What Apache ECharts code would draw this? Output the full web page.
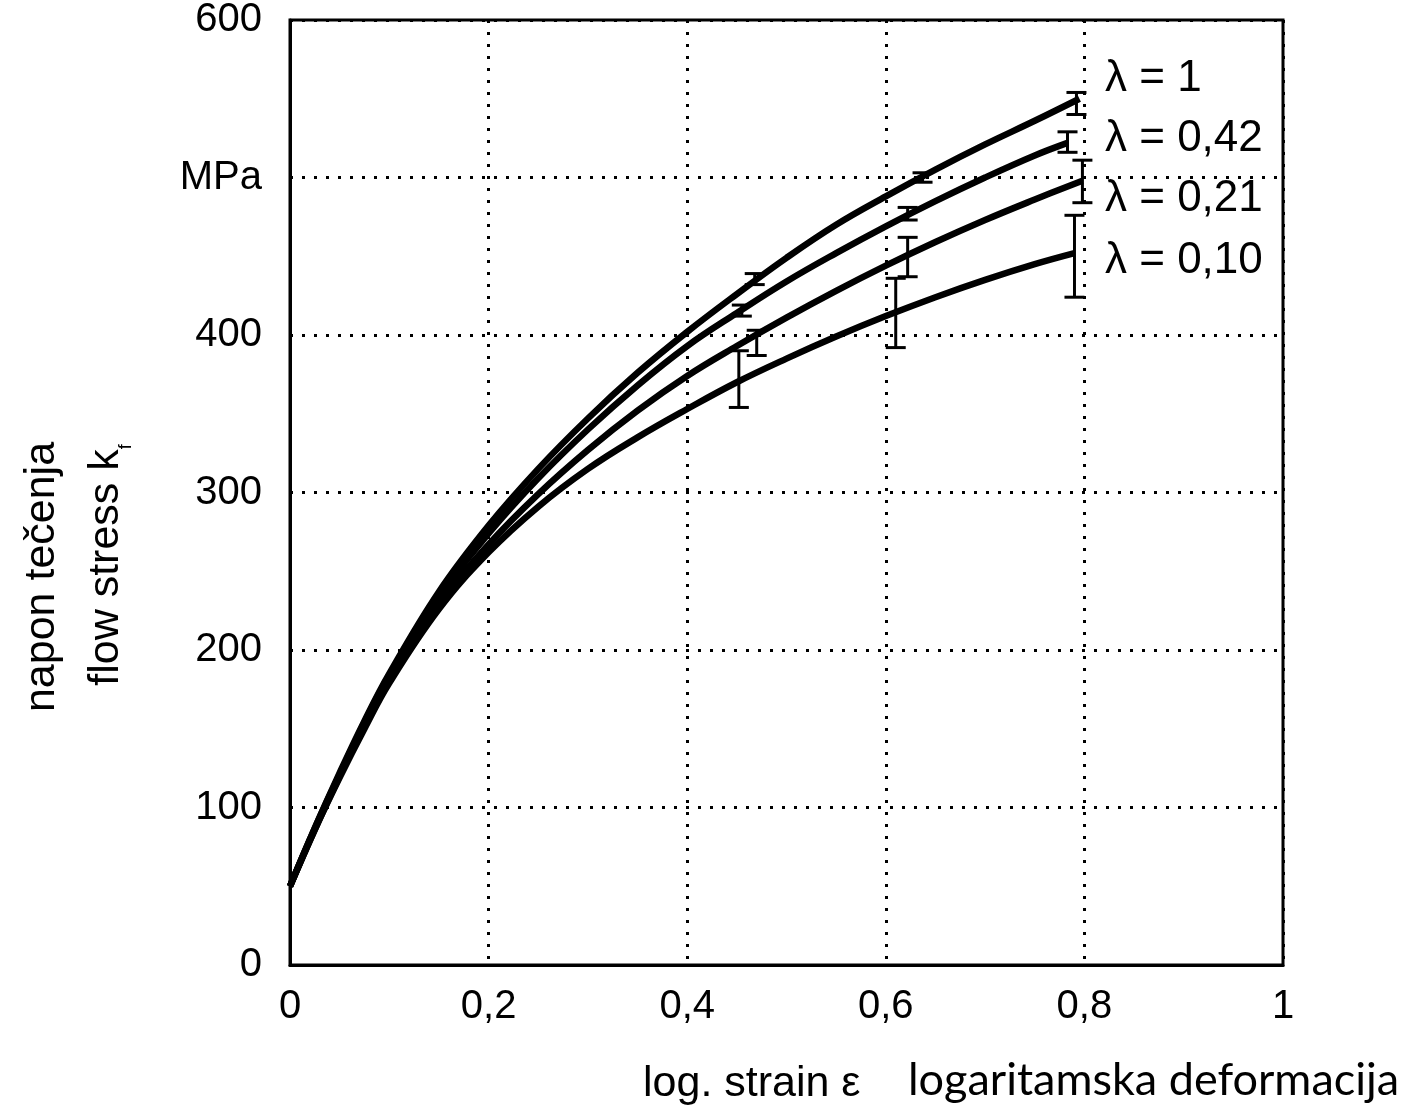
<!DOCTYPE html>
<html>
<head>
<meta charset="utf-8">
<script src="https://cdn.jsdelivr.net/npm/echarts@6/dist/echarts.min.js"></script>
<style>html,body{margin:0;padding:0;background:#fff}#c{width:1426px;height:1115px}</style>
</head>
<body>
<div id="c"></div>
<script>
// ---- data ----
const seriesNames = ['λ = 1', 'λ = 0,42', 'λ = 0,21', 'λ = 0,10'];
const xTickLabels = ['0', '0,2', '0,4', '0,6', '0,8', '1'];
const yTickLabels = ['0', '100', '200', '300', '400', 'MPa', '600'];

const curveL100 = [[0,50],[0.025,87],[0.05,122],[0.075,155],[0.1,185],[0.15,237],[0.2,279],[0.25,315],[0.3,347],[0.35,376],[0.4,402],[0.45,426],[0.5,449],[0.55,470],[0.6,488],[0.65,505],[0.7,521],[0.75,536],[0.795,550]];
const curveL042 = [[0,50],[0.025,87],[0.05,121],[0.075,154],[0.1,184],[0.15,234],[0.2,274],[0.25,309],[0.3,340],[0.35,368],[0.4,393],[0.45,414],[0.5,434],[0.55,452],[0.6,469],[0.65,485],[0.7,500],[0.75,514],[0.783,522]];
const curveL021 = [[0,50],[0.025,86],[0.05,120],[0.075,152],[0.1,181],[0.15,229],[0.2,267],[0.25,299],[0.3,327],[0.35,352],[0.4,374],[0.45,393],[0.5,411],[0.55,428],[0.6,444],[0.65,459],[0.7,473],[0.75,486],[0.798,498]];
const curveL010 = [[0,50],[0.025,86],[0.05,119],[0.075,150],[0.1,179],[0.15,226],[0.2,262],[0.25,291],[0.3,315],[0.35,335],[0.4,353],[0.45,370],[0.5,385],[0.55,399],[0.6,412],[0.65,424],[0.7,435],[0.75,445],[0.79,452]];

// error bars: [strain, low, high]
const errL100 = [[0.468,432,439],[0.637,497,503],[0.792,540,554]];
const errL042 = [[0.455,412,419],[0.622,473,481],[0.783,516,529]];
const errL021 = [[0.47,387,403],[0.622,437,462],[0.798,484,511]];
const errL010 = [[0.452,354,390],[0.61,392,436],[0.79,424,476]];

const curves = [curveL100, curveL042, curveL021, curveL010];
const errs = [errL100, errL042, errL021, errL010];

// ---- chart ----
const chart = echarts.init(document.getElementById('c'), null, {renderer:'canvas'});
const F = '"Liberation Sans", Arial, sans-serif';

function errRender(params, api) {
  const x = api.value(0), lo = api.value(1), hi = api.value(2);
  const p1 = api.coord([x, hi]), p2 = api.coord([x, lo]);
  const hw = 10;
  const style = {stroke:'#000', lineWidth:3};
  return {type:'group', children:[
    {type:'line', shape:{x1:p1[0], y1:p1[1], x2:p2[0], y2:p2[1]}, style:style},
    {type:'line', shape:{x1:p1[0]-hw, y1:p1[1], x2:p1[0]+hw, y2:p1[1]}, style:style},
    {type:'line', shape:{x1:p2[0]-hw, y1:p2[1], x2:p2[0]+hw, y2:p2[1]}, style:style}
  ]};
}

const series = [];
curves.forEach((c, i) => {
  series.push({
    type:'line', name:seriesNames[i], data:c, smooth:0.4, showSymbol:false,
    lineStyle:{color:'#000', width:6.5}, z:3, animation:false
  });
});
errs.forEach((e, i) => {
  series.push({
    type:'custom', name:seriesNames[i] + ' err', data:e, renderItem:errRender,
    encode:{x:0, y:[1,2]}, z:4, animation:false
  });
});
// axis overhang at origin
series.push({
  type:'line', data:[], animation:false,
  markLine:{silent:true, symbol:'none', animation:false,
    lineStyle:{color:'#000', width:3, type:'solid'}, label:{show:false},
    data:[
      [{coord:[0,0]},{coord:[0,-11]}],
      [{coord:[0,0]},{coord:[-0.023,0]}]
    ]}
});

const option = {
  backgroundColor:'#fff',
  animation:false,
  grid:{left:290, top:20, width:993, height:945, show:true, borderColor:'#000', borderWidth:3, backgroundColor:'transparent'},
  xAxis:{
    type:'value', min:0, max:1, interval:0.2,
    axisLine:{show:true, onZero:false, lineStyle:{color:'#000', width:3}},
    axisTick:{show:false},
    axisLabel:{color:'#000', fontFamily:F, fontSize:40, margin:22,
      formatter:(v)=> xTickLabels[Math.round(v/0.2)]},
    splitLine:{show:true, lineStyle:{color:'#000', width:3, type:[3,9]}}
  },
  yAxis:{
    type:'value', min:0, max:600, interval:100,
    axisLine:{show:true, onZero:false, lineStyle:{color:'#000', width:3}},
    axisTick:{show:false},
    axisLabel:{color:'#000', fontFamily:F, fontSize:40, margin:28,
      formatter:(v)=> yTickLabels[Math.round(v/100)]},
    splitLine:{show:true, lineStyle:{color:'#000', width:3, type:[3,9]}}
  },
  series:series,
  graphic:[
    ...seriesNames.map((n, i) => ({
      type:'text', left:1105, top:[57,117,177,239][i],
      style:{text:n, fontFamily:F, fontSize:44, fill:'#000'}
    })),
    {type:'text', x:42, y:577, rotation:Math.PI/2, style:{text:'napon tečenja', fontFamily:F, fontSize:43, fill:'#000', align:'center', verticalAlign:'middle'}},
    {type:'text', x:106, y:565, rotation:Math.PI/2,
      style:{text:'{a|flow stress k}{s|f}', align:'center', verticalAlign:'middle',
        rich:{a:{fontFamily:F, fontSize:43, fill:'#000'}, s:{fontFamily:F, fontSize:18, fill:'#000', verticalAlign:'bottom', padding:[0,0,-8,0]}}}},
    {type:'text', left:643, top:1063, style:{text:'log. strain ε', fontFamily:F, fontSize:43, fill:'#000'}},
    {type:'text', left:908, top:1058, style:{text:'logaritamska deformacija', fontFamily:'Lato, "Open Sans", sans-serif', fontSize:45, fill:'#000'}}
  ]
};
chart.setOption(option);
</script>
</body>
</html>
